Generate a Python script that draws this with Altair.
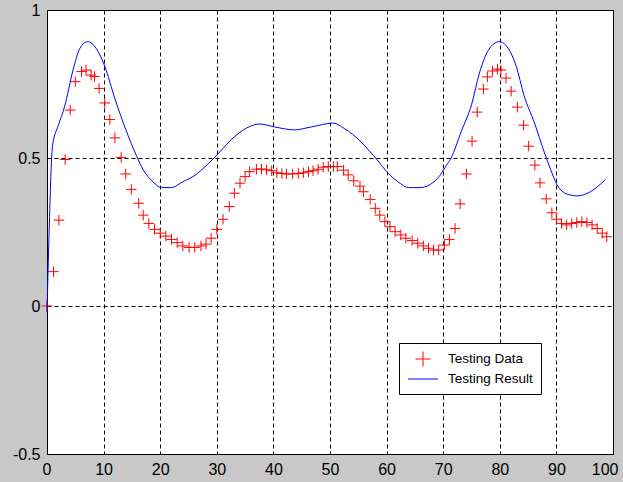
import altair as alt
import pandas as pd

# Testing Data (red plus markers)
red_x = [0, 1.15, 2.1, 3.2, 4.1, 5.0, 6.1, 6.9, 7.8, 8.4, 9.2, 10.2, 11.1, 12.0, 13.1, 13.9,
         14.9, 16.2, 17, 18, 19, 20, 21, 22, 23, 24, 25.1, 26.1, 27.2, 28.1, 29.0, 30.0,
         31.1, 32.2, 33.1, 34.1, 35.0, 35.8, 37.0, 37.9, 38.8, 39.7, 40.6, 41.5, 42.3, 43.4,
         44.4, 45.3, 46.2, 47.0, 47.9, 48.8, 49.7, 50.6, 51.3, 52.4, 53.2, 54.2, 55.3, 55.9,
         57.1, 58.0, 58.8, 59.7, 60.6, 61.5, 62.5, 63.4, 64.5, 65.5, 66.5, 67.4, 68.3, 69.2,
         70.2, 71.1, 72.1, 73.0, 74.1, 75.1, 76.0, 77.1, 77.8, 78.7, 79.6, 80.2, 81.1, 82.0,
         83.1, 84.2, 85.1, 86.2, 87.1, 88.2, 89.2, 90.0, 90.9, 91.8, 92.7, 93.6, 94.5, 95.4,
         96.3, 97.2, 98.1, 98.9]
red_y = [0.0, 0.116, 0.29, 0.495, 0.662, 0.758, 0.792, 0.797, 0.78, 0.775, 0.735, 0.686, 0.63,
         0.568, 0.502, 0.446, 0.394, 0.347, 0.307, 0.279, 0.259, 0.246, 0.236, 0.225, 0.214,
         0.203, 0.198, 0.198, 0.203, 0.209, 0.229, 0.259, 0.293, 0.336, 0.381, 0.415, 0.437,
         0.454, 0.462, 0.463, 0.46, 0.457, 0.45, 0.448, 0.446, 0.446, 0.448, 0.45, 0.454, 0.457,
         0.462, 0.469, 0.471, 0.471, 0.471, 0.459, 0.443, 0.423, 0.405, 0.386, 0.36, 0.33, 0.307,
         0.285, 0.268, 0.251, 0.24, 0.229, 0.221, 0.212, 0.203, 0.195, 0.189, 0.189, 0.206,
         0.225, 0.262, 0.345, 0.446, 0.557, 0.655, 0.733, 0.774, 0.794, 0.80, 0.797, 0.77,
         0.726, 0.672, 0.611, 0.54, 0.476, 0.416, 0.362, 0.315, 0.293, 0.279, 0.274, 0.279,
         0.282, 0.285, 0.282, 0.274, 0.262, 0.246, 0.234]

# Testing Result (blue line)
blue_x = [0, 0.3, 0.5, 0.7, 1.0, 2.0, 3.1, 4.6, 5.8, 7.2, 8.7, 10.2, 12.0, 14.0, 15.8,
          17.0, 18.7, 20.2, 22.0, 24.0, 25.8, 27.6, 29.3, 30.5, 33.0, 36.0, 37.5, 40.2, 43.7,
          46.7, 50.6, 52.5, 55.5, 56.8, 58.5, 60.0, 62.0, 63.9, 65.9, 68.4, 69.5, 70.4, 71.4,
          73.2, 75.0, 76.4, 78.0, 79.9, 81.5, 82.9, 84.3, 86.1, 87.9, 89.0, 90.1, 91.9, 93.7,
          96.0, 98.7]
blue_y = [-0.02, 0.2, 0.33, 0.45, 0.544, 0.61, 0.673, 0.797, 0.87, 0.893, 0.87, 0.81, 0.70,
          0.592, 0.508, 0.46, 0.42, 0.40, 0.40, 0.42, 0.437, 0.465, 0.496, 0.52, 0.57,
          0.608, 0.615, 0.605, 0.595, 0.605, 0.618, 0.60, 0.554, 0.527, 0.49, 0.454, 0.42, 0.40,
          0.40, 0.42, 0.443, 0.47, 0.50, 0.59, 0.68, 0.787, 0.865, 0.893, 0.87, 0.81, 0.71, 0.62,
          0.517, 0.46, 0.41, 0.378, 0.372, 0.386, 0.428]

series = ["Testing Data", "Testing Result"]

red_df = pd.DataFrame({"t": red_x, "v": red_y, "series": series[0]})
blue_df = pd.DataFrame({"t": blue_x, "v": blue_y, "series": series[1]})

PLUS = "M-1,0L1,0M0,-1L0,1"
DASH = "M-2,0L2,0"
FONT = "Liberation Sans"

xenc = alt.X("t:Q", scale=alt.Scale(domain=[0, 100], nice=False, zero=False),
             axis=alt.Axis(values=list(range(0, 101, 10)), title=None, grid=True,
                           ticks=False, labelFlush=True, labelFlushOffset=5,
                           labelOverlap=False,
                           labelPadding=7, labelFontSize=16, labelFont=FONT,
                           labelColor="black", domainColor="black"))
yenc = alt.Y("v:Q", scale=alt.Scale(domain=[-0.5, 1], nice=False, zero=False),
             axis=alt.Axis(values=[-0.5, 0, 0.5, 1], title=None, grid=True,
                           ticks=False, labelFlush=False, labelOverlap=False,
                           labelPadding=7, labelFontSize=16, labelFont=FONT,
                           labelColor="black", domainColor="black",
                           labelExpr="datum.value < 0 ? '-' + format(-datum.value, '~g') : format(datum.value, '~g')"))

color_scale = alt.Scale(domain=series, range=["#ff0000", "#0000ff"])

line = alt.Chart(blue_df).mark_line(strokeWidth=1, interpolate="monotone").encode(
    x=xenc, y=yenc,
    color=alt.Color("series:N", scale=color_scale, legend=None),
)

legend = alt.Legend(
    title=None, orient="none", legendX=352, legendY=333,
    fillColor="white", strokeColor="black", padding=8, cornerRadius=0,
    symbolSize=225, symbolStrokeWidth=1, symbolOffset=8,
    labelOffset=17, labelFontSize=13.5, labelFont=FONT, labelColor="black",
    rowPadding=2,
)

points = alt.Chart(red_df).mark_point(filled=False, size=110, strokeWidth=1, opacity=1).encode(
    x=xenc, y=yenc,
    color=alt.Color("series:N", scale=color_scale, legend=legend),
    shape=alt.Shape("series:N", scale=alt.Scale(domain=series, range=[PLUS, DASH]), legend=legend),
)

chart = alt.layer(points, line).properties(
    width=566, height=444,
    autosize=alt.AutoSizeParams(type="none"),
    padding={"left": 47, "top": 10, "right": 10, "bottom": 28},
    background="#c8c8c8",
).configure_view(
    fill="white", stroke="black", strokeWidth=1,
).configure_axis(
    gridColor="black", gridDash=[4, 3], gridOpacity=1, gridWidth=1,
    domainWidth=1,
)

chart.save("out.html", embed_options={"renderer": "svg", "actions": False})
